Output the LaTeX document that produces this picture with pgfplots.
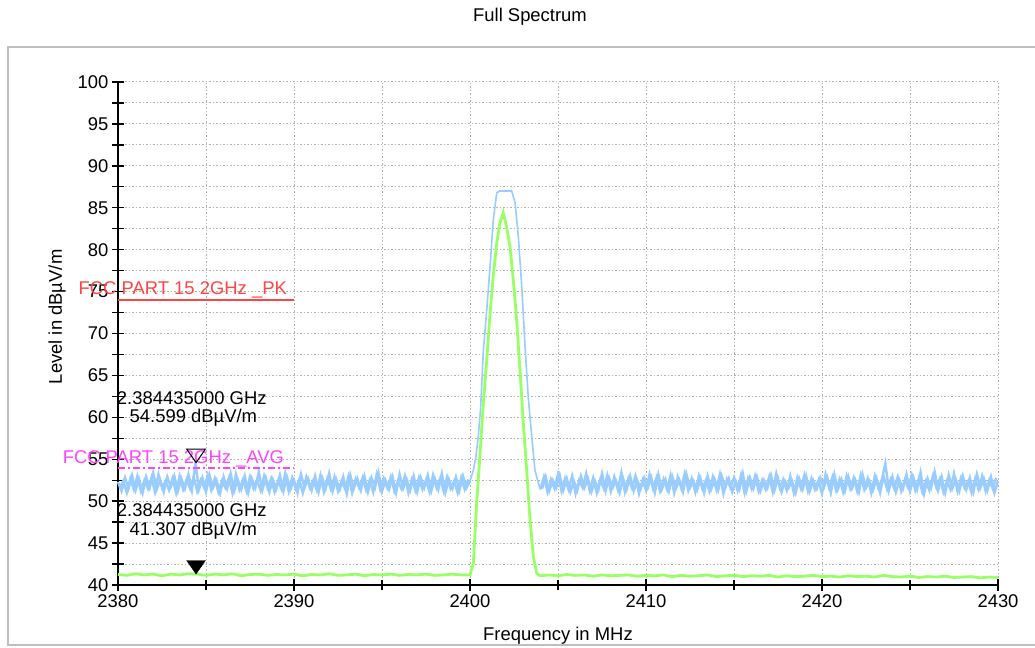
\documentclass[border=0pt]{standalone}
\usepackage{fontspec}
\setmainfont{Liberation Sans}
\usepackage{pgfplots}
\pgfplotsset{compat=1.18}
\definecolor{pkblue}{HTML}{99CCFF}
\definecolor{avgreen}{HTML}{99FF66}
\definecolor{limred}{HTML}{FF4444}
\definecolor{limmag}{HTML}{FF44FF}
\newcommand{\fnt}{\fontsize{18.5}{21}\selectfont}
\begin{document}
\begin{tikzpicture}
\useasboundingbox (0,0) rectangle (1035bp,648bp);
\fill[white] (0,0) rectangle (1035bp,648bp);
\draw[black!25, line width=1.5bp] (8bp,3bp) rectangle (1045bp,601bp);
\node[font=\fnt] at (530bp,631bp) {Full Spectrum};
\begin{axis}[
  at={(118bp,63bp)}, anchor=south west,
  scale only axis, width=880bp, height=503bp,
  clip=false,
  xmin=2380, xmax=2430, ymin=40, ymax=100,
  axis lines*=left,
  axis line style={line width=1.4bp, black},
  xtick={2380,2390,...,2430},
  minor xtick={2385,2395,...,2425},
  ytick={40,45,...,100},
  minor ytick={42.5,47.5,...,97.5},
  tick align=center,
  major tick length=12bp, minor tick length=11bp,
  every tick/.style={black, line width=1.4bp},
  grid=both,
  major grid style={draw=black!30, line width=1bp, dash pattern=on 1.5bp off 2bp},
  minor grid style={draw=black!30, line width=1bp, dash pattern=on 1.5bp off 2bp},
  ticklabel style={font=\fnt},
  /pgf/number format/assume math mode=true,
  /pgf/number format/1000 sep={},
  xlabel={Frequency in MHz},
  ylabel={Level in dBµV/m},
  every axis x label/.style={at={(axis description cs:0.5,0)}, yshift=-51bp, anchor=center, font=\fnt},
  every axis y label/.style={at={(axis description cs:0,0.533)}, xshift=-61bp, rotate=90, anchor=center, font=\fnt},
]
% peak trace, noise left of the carrier (even tenths)
\addplot[pkblue, line width=2.4bp] table {
2380.0 52.3
2380.2 51.2
2380.4 52.8
2380.6 51.5
2380.8 53.1
2381.0 51.3
2381.2 52.6
2381.4 51.0
2381.6 52.9
2381.8 51.6
2382.0 53.4
2382.2 51.4
2382.4 52.5
2382.6 51.1
2382.8 52.9
2383.0 51.7
2383.2 53.0
2383.4 51.2
2383.6 52.7
2383.8 51.5
2384.0 53.2
2384.2 51.3
2384.4 54.6
2384.6 51.4
2384.8 52.8
2385.0 51.1
2385.2 53.1
2385.4 51.6
2385.6 52.5
2385.8 50.9
2386.0 52.9
2386.2 51.5
2386.4 53.3
2386.6 51.2
2386.8 52.6
2387.0 51.4
2387.2 53.0
2387.4 51.0
2387.6 52.7
2387.8 51.6
2388.0 53.5
2388.2 51.3
2388.4 52.8
2388.6 51.1
2388.8 52.6
2389.0 51.5
2389.2 53.1
2389.4 51.2
2389.6 52.9
2389.8 51.4
2390.0 52.5
2390.2 51.0
2390.4 53.2
2390.6 51.6
2390.8 52.7
2391.0 51.3
2391.2 53.0
2391.4 51.1
2391.6 52.8
2391.8 51.5
2392.0 53.3
2392.2 51.2
2392.4 52.6
2392.6 51.4
2392.8 52.9
2393.0 50.9
2393.2 53.1
2393.4 51.5
2393.6 52.7
2393.8 51.3
2394.0 53.0
2394.2 51.1
2394.4 52.8
2394.6 51.6
2394.8 53.4
2395.0 51.2
2395.2 52.5
2395.4 51.4
2395.6 52.9
2395.8 51.0
2396.0 53.2
2396.2 51.5
2396.4 52.6
2396.6 51.3
2396.8 53.0
2397.0 51.1
2397.2 52.8
2397.4 51.6
2397.6 53.1
2397.8 51.2
2398.0 52.7
2398.2 51.4
2398.4 53.3
2398.6 51.0
2398.8 52.6
2399.0 51.5
2399.2 52.9
2399.4 51.3
2399.6 53.0
2399.8 51.6
2400.0 52.4
};
% peak trace, noise left of the carrier (odd tenths)
\addplot[pkblue, line width=2.4bp] table {
2380.1 51.6
2380.3 52.4
2380.5 51.0
2380.7 52.7
2380.9 51.4
2381.1 53.0
2381.3 51.2
2381.5 52.5
2381.7 51.5
2381.9 52.8
2382.1 51.1
2382.3 53.2
2382.5 51.6
2382.7 52.4
2382.9 51.3
2383.1 52.7
2383.3 51.0
2383.5 53.0
2383.7 51.4
2383.9 52.6
2384.1 51.5
2384.3 52.9
2384.5 51.2
2384.7 52.5
2384.9 51.6
2385.1 53.1
2385.3 51.3
2385.5 52.7
2385.7 51.1
2385.9 52.4
2386.1 51.6
2386.3 52.8
2386.5 51.0
2386.7 53.2
2386.9 51.4
2387.1 52.6
2387.3 51.2
2387.5 52.9
2387.7 51.5
2387.9 52.5
2388.1 51.3
2388.3 53.0
2388.5 51.6
2388.7 52.7
2388.9 51.1
2389.1 52.4
2389.3 51.4
2389.5 53.3
2389.7 51.2
2389.9 52.8
2390.1 51.5
2390.3 52.6
2390.5 51.0
2390.7 52.9
2390.9 51.6
2391.1 52.5
2391.3 51.3
2391.5 53.1
2391.7 51.1
2391.9 52.7
2392.1 51.4
2392.3 52.9
2392.5 51.2
2392.7 52.4
2392.9 51.5
2393.1 53.0
2393.3 51.0
2393.5 52.6
2393.7 51.6
2393.9 52.8
2394.1 51.3
2394.3 52.5
2394.5 51.1
2394.7 53.2
2394.9 51.4
2395.1 52.7
2395.3 51.6
2395.5 52.9
2395.7 51.2
2395.9 52.4
2396.1 51.5
2396.3 53.0
2396.5 51.0
2396.7 52.6
2396.9 51.3
2397.1 52.8
2397.3 51.4
2397.5 52.5
2397.7 51.1
2397.9 53.1
2398.1 51.6
2398.3 52.7
2398.5 51.2
2398.7 52.9
2398.9 51.5
2399.1 52.4
2399.3 51.0
2399.5 52.8
2399.7 51.4
2399.9 52.6
};
% peak trace, carrier
\addplot[pkblue, line width=1.6bp] table {
2400.0 52.4
2400.19 53.7
2400.33 55.2
2400.47 57.7
2400.60 61.0
2400.66 63.6
2400.76 68.0
2400.95 72.8
2401.14 78.0
2401.32 83.5
2401.52 86.8
2401.70 87.0
2402.00 87.0
2402.37 87.0
2402.56 85.6
2402.75 81.5
2402.94 75.6
2403.13 68.4
2403.31 62.4
2403.51 57.7
2403.69 53.7
2403.88 52.2
2404.0 51.4
};
% peak trace, noise right of the carrier (even tenths)
\addplot[pkblue, line width=2.4bp] table {
2404.0 51.4
2404.2 52.9
2404.4 51.1
2404.6 52.6
2404.8 51.5
2405.0 53.2
2405.2 51.2
2405.4 52.7
2405.6 51.4
2405.8 53.0
2406.0 50.9
2406.2 52.5
2406.4 51.6
2406.6 53.3
2406.8 51.3
2407.0 52.8
2407.2 51.0
2407.4 52.6
2407.6 51.5
2407.8 53.1
2408.0 51.2
2408.2 52.9
2408.4 51.4
2408.6 53.4
2408.8 51.1
2409.0 52.7
2409.2 51.6
2409.4 53.0
2409.6 50.9
2409.8 52.5
2410.0 51.3
2410.2 53.2
2410.4 51.5
2410.6 52.8
2410.8 51.2
2411.0 52.6
2411.2 51.4
2411.4 53.1
2411.6 51.0
2411.8 52.9
2412.0 51.6
2412.2 53.3
2412.4 51.3
2412.6 52.7
2412.8 51.1
2413.0 53.0
2413.2 51.5
2413.4 52.5
2413.6 51.2
2413.8 52.9
2414.0 51.4
2414.2 53.2
2414.4 50.9
2414.6 52.6
2414.8 51.6
2415.0 52.8
2415.2 51.3
2415.4 53.1
2415.6 51.0
2415.8 52.7
2416.0 51.5
2416.2 53.0
2416.4 51.2
2416.6 52.5
2416.8 51.4
2417.0 52.9
2417.2 51.1
2417.4 53.3
2417.6 51.6
2417.8 52.6
2418.0 51.3
2418.2 53.0
2418.4 51.0
2418.6 52.8
2418.8 51.5
2419.0 53.1
2419.2 51.2
2419.4 52.7
2419.6 51.4
2419.8 52.5
2420.0 50.9
2420.2 53.2
2420.4 51.6
2420.6 52.9
2420.8 51.3
2421.0 52.6
2421.2 51.1
2421.4 53.0
2421.6 51.5
2421.8 52.8
2422.0 51.2
2422.2 53.1
2422.4 51.4
2422.6 52.7
2422.8 51.0
2423.0 53.0
2423.2 51.6
2423.4 52.6
2423.6 54.5
2423.8 51.3
2424.0 52.9
2424.2 51.1
2424.4 52.5
2424.6 51.5
2424.8 53.2
2425.0 51.2
2425.2 52.8
2425.4 51.4
2425.6 53.4
2425.8 50.9
2426.0 52.7
2426.2 51.6
2426.4 53.5
2426.6 51.3
2426.8 52.9
2427.0 51.0
2427.2 53.1
2427.4 51.5
2427.6 52.6
2427.8 51.2
2428.0 53.0
2428.2 51.4
2428.4 52.8
2428.6 51.1
2428.8 53.2
2429.0 51.6
2429.2 52.7
2429.4 51.3
2429.6 52.9
2429.8 51.0
2430.0 52.4
};
% peak trace, noise right of the carrier (odd tenths)
\addplot[pkblue, line width=2.4bp] table {
2404.1 51.5
2404.3 52.9
2404.5 51.2
2404.7 52.5
2404.9 51.6
2405.1 53.1
2405.3 51.3
2405.5 52.7
2405.7 51.1
2405.9 52.4
2406.1 51.3
2406.3 53.0
2406.5 51.6
2406.7 52.7
2406.9 51.1
2407.1 52.4
2407.3 51.4
2407.5 53.3
2407.7 51.2
2407.9 52.8
2408.1 51.6
2408.3 52.4
2408.5 51.0
2408.7 52.7
2408.9 51.4
2409.1 53.0
2409.3 51.2
2409.5 52.5
2409.7 51.5
2409.9 52.8
2410.1 51.6
2410.3 52.8
2410.5 51.0
2410.7 53.2
2410.9 51.4
2411.1 52.6
2411.3 51.2
2411.5 52.9
2411.7 51.5
2411.9 52.5
2412.1 51.1
2412.3 53.2
2412.5 51.6
2412.7 52.4
2412.9 51.3
2413.1 52.7
2413.3 51.0
2413.5 53.0
2413.7 51.4
2413.9 52.6
2414.1 51.3
2414.3 53.0
2414.5 51.6
2414.7 52.7
2414.9 51.1
2415.1 52.4
2415.3 51.4
2415.5 53.3
2415.7 51.2
2415.9 52.8
2416.1 51.5
2416.3 52.9
2416.5 51.2
2416.7 52.5
2416.9 51.6
2417.1 53.1
2417.3 51.3
2417.5 52.7
2417.7 51.1
2417.9 52.4
2418.1 51.6
2418.3 52.4
2418.5 51.0
2418.7 52.7
2418.9 51.4
2419.1 53.0
2419.3 51.2
2419.5 52.5
2419.7 51.5
2419.9 52.8
2420.1 51.6
2420.3 52.8
2420.5 51.0
2420.7 53.2
2420.9 51.4
2421.1 52.6
2421.3 51.2
2421.5 52.9
2421.7 51.5
2421.9 52.5
2422.1 51.1
2422.3 53.2
2422.5 51.6
2422.7 52.4
2422.9 51.3
2423.1 52.7
2423.3 51.0
2423.5 53.0
2423.7 51.4
2423.9 52.6
2424.1 51.5
2424.3 52.9
2424.5 51.2
2424.7 52.5
2424.9 51.6
2425.1 53.1
2425.3 51.3
2425.5 52.7
2425.7 51.1
2425.9 52.4
2426.1 51.3
2426.3 53.0
2426.5 51.6
2426.7 52.7
2426.9 51.1
2427.1 52.4
2427.3 51.4
2427.5 53.3
2427.7 51.2
2427.9 52.8
2428.1 51.6
2428.3 52.4
2428.5 51.0
2428.7 52.7
2428.9 51.4
2429.1 53.0
2429.3 51.2
2429.5 52.5
2429.7 51.5
2429.9 52.8
};
% average trace
\addplot[avgreen, line width=2.8bp] table {
2380.0 41.25
2380.5 41.15
2381.0 41.35
2381.5 41.2
2382.0 41.3
2382.5 41.1
2383.0 41.3
2383.5 41.2
2384.0 41.35
2384.5 41.3
2385.0 41.15
2385.5 41.3
2386.0 41.2
2386.5 41.35
2387.0 41.1
2387.5 41.25
2388.0 41.3
2388.5 41.15
2389.0 41.25
2389.5 41.2
2390.0 41.3
2390.5 41.1
2391.0 41.25
2391.5 41.2
2392.0 41.35
2392.5 41.15
2393.0 41.2
2393.5 41.3
2394.0 41.1
2394.5 41.25
2395.0 41.2
2395.5 41.3
2396.0 41.15
2396.5 41.25
2397.0 41.2
2397.5 41.3
2398.0 41.15
2398.5 41.2
2399.0 41.3
2399.5 41.2
2400.0 41.2
2400.19 42.6
2400.38 49.8
2400.57 55.7
2400.76 61.7
2400.95 66.8
2401.14 72.4
2401.32 76.8
2401.52 80.8
2401.70 83.2
2401.89 84.4
2402.08 82.7
2402.27 80.4
2402.46 76.4
2402.65 71.6
2402.84 65.6
2403.03 59.3
2403.22 53.7
2403.41 47.8
2403.60 43.4
2403.79 41.4
2403.98 41.1
2404.5 41.2
2405.0 41.1
2405.5 41.25
2406.0 41.15
2406.5 41.2
2407.0 41.05
2407.5 41.2
2408.0 41.1
2408.5 41.15
2409.0 41.2
2409.5 41.05
2410.0 41.15
2410.5 41.1
2411.0 41.2
2411.5 41.0
2412.0 41.15
2412.5 41.05
2413.0 41.1
2413.5 41.2
2414.0 41.0
2414.5 41.1
2415.0 41.15
2415.5 41.0
2416.0 41.1
2416.5 41.05
2417.0 41.15
2417.5 40.95
2418.0 41.1
2418.5 41.0
2419.0 41.05
2419.5 41.15
2420.0 41.0
2420.5 41.05
2421.0 40.95
2421.5 41.1
2422.0 41.0
2422.5 41.05
2423.0 40.95
2423.5 41.15
2424.0 41.0
2424.5 40.95
2425.0 41.05
2425.5 40.9
2426.0 41.0
2426.5 40.95
2427.0 41.05
2427.5 40.9
2428.0 40.95
2428.5 41.0
2429.0 40.85
2429.5 40.95
2430.0 40.9
};
% limit lines
\addplot[limred, line width=2bp] coordinates {(2380,74) (2390,74)};
\addplot[limmag, line width=2bp, dash pattern=on 7bp off 3bp on 2bp off 3bp] coordinates {(2380,54) (2390,54)};
\node[anchor=west, inner sep=0pt, text=limred, font=\fnt] at (axis cs:2377.75,75.2) {FCC PART 15 2GHz \_PK};
\node[anchor=west, inner sep=0pt, text=limmag, font=\fnt] at (axis cs:2376.85,55.1) {FCC PART 15 2GHz \_AVG};
% markers
\addplot[only marks, mark=triangle, mark size=9bp,
  mark options={yshift=9bp, rotate=180, xscale=1.2, draw=black, fill=white, line width=1bp}]
  coordinates {(2384.435,54.599)};
\addplot[only marks, mark=triangle*, mark size=9bp,
  mark options={yshift=9bp, rotate=180, xscale=1.2, draw=black, fill=black}]
  coordinates {(2384.435,41.307)};
\node[anchor=west, inner sep=0pt, font=\fnt] at (axis cs:2379.93,62.3) {2.384435000 GHz};
\node[anchor=west, inner sep=0pt, font=\fnt] at (axis cs:2380.65,60.0) {54.599 dBµV/m};
\node[anchor=west, inner sep=0pt, font=\fnt] at (axis cs:2379.93,48.9) {2.384435000 GHz};
\node[anchor=west, inner sep=0pt, font=\fnt] at (axis cs:2380.65,46.5) {41.307 dBµV/m};
\end{axis}
\end{tikzpicture}
\end{document}
